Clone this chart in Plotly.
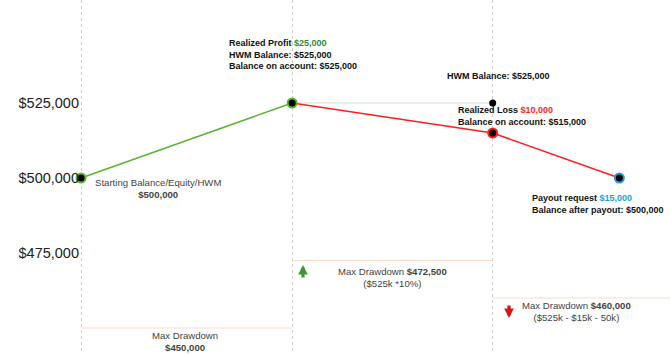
import plotly.graph_objects as go

# ---- data ----
steps = [0, 1, 1.95, 2.55]                 # event positions along the timeline
balance = [500000, 525000, 515000, 500000]  # balance on account
hwm_steps = [1, 1.95]
hwm_values = [525000, 525000]
dd_starts = [0, 1, 1.95]
dd_ends = [1, 1.95, 2.79]
dd_values = [450000, 472500, 460000]
ytick_vals = [525000, 500000, 475000]
ytick_text = ["$525,000", "$500,000", "$475,000"]

W, H = 670, 354
ML = 80
X0, X1 = -0.005, 2.79
Y0, Y1 = 441333, 559333

GREEN = "#5cb531"
RED = "#ff1e1e"
BLUE = "#1e9fdc"
DD = "#fcdccf"
FONT = "Liberation Sans, Arial, sans-serif"


def dx(px):
    return X0 + (px - ML) * (X1 - X0) / (W - ML)


def dy(py):
    return Y1 - py * (Y1 - Y0) / H


fig = go.Figure()

# drawdown levels
for s, e, v in zip(dd_starts, dd_ends, dd_values):
    fig.add_trace(go.Scatter(x=[s, e], y=[v, v], mode="lines",
                             line=dict(color=DD, width=1.2), hoverinfo="skip"))

# HWM line
fig.add_trace(go.Scatter(x=hwm_steps, y=hwm_values, mode="lines",
                         line=dict(color="#e6e6e6", width=1.5), hoverinfo="skip"))
# green (profit) segment
fig.add_trace(go.Scatter(x=steps[:2], y=balance[:2], mode="lines",
                         line=dict(color=GREEN, width=1.5)))
# red (loss) segments
fig.add_trace(go.Scatter(x=steps[1:], y=balance[1:], mode="lines",
                         line=dict(color=RED, width=1.5)))
# markers
fig.add_trace(go.Scatter(x=[hwm_steps[1]], y=[hwm_values[1]], mode="markers",
                         marker=dict(color="black", size=7), cliponaxis=False))
fig.add_trace(go.Scatter(x=steps, y=balance, mode="markers", cliponaxis=False,
                         marker=dict(color="black", size=9,
                                     line=dict(color=[GREEN, GREEN, RED, BLUE], width=2))))

ann = []
def txt(text, px, py, xanchor="left", yanchor="top", size=9, color="#111", align="left"):
    ann.append(dict(x=dx(px), y=dy(py), xref="x", yref="y", text=text, showarrow=False,
                    xanchor=xanchor, yanchor=yanchor, align=align,
                    font=dict(family=FONT, size=size, color=color)))

txt("Starting Balance/Equity/HWM<br><b>$500,000</b>", 158, 175, xanchor="center",
    size=9.6, color="#444", align="center")
txt("<b>Realized Profit <span style='color:#2e8b3a'>$25,000</span><br>HWM Balance: $525,000"
    "<br>Balance on account: $525,000</b>", 227, 36)
txt("<b>HWM Balance: $525,000</b>", 498, 76, xanchor="center", yanchor="middle", align="center")
txt("<b>Realized Loss <span style='color:#ff1e1e'>$10,000</span><br>Balance on account: $515,000</b>",
    456, 103)
txt("<b>Payout request <span style='color:#1e9fdc'>$15,000</span><br>Balance after payout: $500,000</b>",
    530, 191)
txt("Max Drawdown<br><b>$450,000</b>", 185, 328, xanchor="center", size=9.6,
    color="#444", align="center")
txt("Max Drawdown <b>$472,500</b><br>($525k *10%)", 392, 264, xanchor="center", size=9.6,
    color="#444", align="center")
txt("Max Drawdown <b>$460,000</b><br>($525k - $15k - 50k)", 576, 298, xanchor="center", size=9.6,
    color="#444", align="center")

# arrows
ann.append(dict(x=dx(303), y=dy(265), ax=0, ay=14, xref="x", yref="y", showarrow=True,
                arrowhead=2, arrowsize=0.6, arrowwidth=3.2, arrowcolor="#3c9a34", text=""))
ann.append(dict(x=dx(509), y=dy(318), ax=0, ay=-14, xref="x", yref="y", showarrow=True,
                arrowhead=2, arrowsize=0.6, arrowwidth=3.2, arrowcolor="#e01010", text=""))

fig.update_layout(
    width=W, height=H, margin=dict(l=ML, r=0, t=0, b=0),
    paper_bgcolor="white", plot_bgcolor="white", showlegend=False,
    annotations=ann,
    xaxis=dict(range=[X0, X1], tickvals=steps[:3], showticklabels=False, showgrid=True,
               gridcolor="#cfcfcf", griddash="dot", gridwidth=1, zeroline=False, showline=False),
    yaxis=dict(range=[Y0, Y1], tickvals=ytick_vals, ticktext=ytick_text, showgrid=False,
               zeroline=False, showline=False, ticks="",
               tickfont=dict(family=FONT, size=14.5, color="#222")),
)

fig.write_html("out.html")
